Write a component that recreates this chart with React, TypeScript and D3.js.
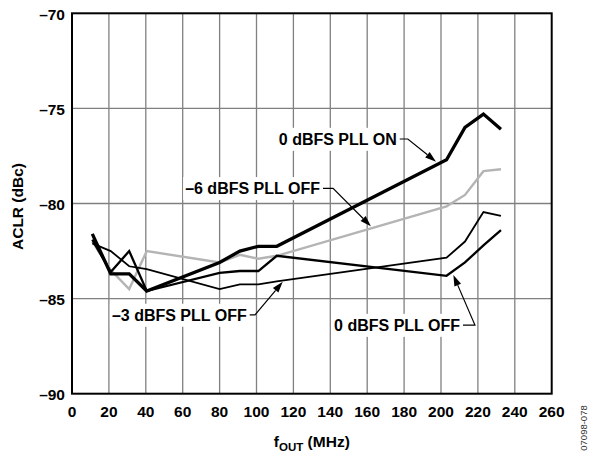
import { useEffect, useRef } from 'react';
import * as d3 from 'd3';

const FREQ_MHZ = [11, 21, 31, 40.5, 80, 91, 101, 111, 203, 213, 223, 232.5];
const ACLR_0DBFS_PLL_ON = [-81.6, -83.7, -83.7, -84.6, -83.1, -82.5, -82.25, -82.25, -77.7, -76.0, -75.3, -76.1];
const ACLR_0DBFS_PLL_OFF = [-81.9, -83.6, -82.5, -84.6, -83.65, -83.55, -83.55, -82.75, -83.8, -83.1, -82.2, -81.4];
const ACLR_M3DBFS_PLL_OFF = [-82.1, -82.5, -83.3, -83.45, -84.5, -84.25, -84.25, -84.1, -82.85, -82.0, -80.45, -80.65];
const ACLR_M6DBFS_PLL_OFF = [-82.0, -83.5, -84.5, -82.5, -83.1, -82.7, -82.9, -82.75, -80.15, -79.55, -78.3, -78.2];

const X_TICKS = [0, 20, 40, 60, 80, 100, 120, 140, 160, 180, 200, 220, 240, 260];
const Y_TICKS = [-90, -85, -80, -75, -70];

const SERIES = [
  { name: '–6 dBFS PLL OFF', values: ACLR_M6DBFS_PLL_OFF, color: '#b4b4b4', width: 2.4 },
  { name: '–3 dBFS PLL OFF', values: ACLR_M3DBFS_PLL_OFF, color: '#000', width: 1.8 },
  { name: '0 dBFS PLL OFF', values: ACLR_0DBFS_PLL_OFF, color: '#000', width: 2.3 },
  { name: '0 dBFS PLL ON', values: ACLR_0DBFS_PLL_ON, color: '#000', width: 3.3 },
];

// callouts in data units: text end, elbow of the leader, arrow tip
const CALLOUTS = [
  { text: '0 dBFS PLL ON', end: [176, -76.61], elbow: [182, -76.61], tip: [197.3, -77.8] },
  { text: '–6 dBFS PLL OFF', end: [134.4, -79.2], elbow: [141.5, -79.2], tip: [162, -81.2] },
  { text: '–3 dBFS PLL OFF', end: [94.7, -85.86], elbow: [99.2, -85.86], tip: [114.2, -84.12] },
  { text: '0 dBFS PLL OFF', end: [210.3, -86.39], elbow: [218.4, -86.39], tip: [206.7, -83.76] },
];

const W = 589;
const H = 457;
const FONT = 'Arial, "Liberation Sans", Helvetica, sans-serif';

function draw(svgEl: SVGSVGElement) {
  const svg = d3.select(svgEl);
  svg.selectAll('*').remove();

  const m = { left: 72, right: W - 551.7, top: 13.3, bottom: H - 393.7 };
  const x = d3.scaleLinear().domain([0, 260]).range([m.left, W - m.right]);
  const y = d3.scaleLinear().domain([-90, -70]).range([H - m.bottom, m.top]);

  svg.append('rect').attr('width', W).attr('height', H).attr('fill', '#fff');

  const grid = svg.append('g').attr('stroke', '#808080').attr('stroke-width', 1.3);
  grid.selectAll('line.v').data(X_TICKS.slice(1, -1)).join('line')
    .attr('x1', (d) => x(d)).attr('x2', (d) => x(d))
    .attr('y1', y(-90)).attr('y2', y(-70));
  grid.selectAll('line.h').data(Y_TICKS.slice(1, -1)).join('line')
    .attr('y1', (d) => y(d)).attr('y2', (d) => y(d))
    .attr('x1', x(0)).attr('x2', x(260));

  // label backgrounds go over the grid, under the curves
  const bgLayer = svg.append('g');

  const line = d3.line<number>()
    .x((_, i) => x(FREQ_MHZ[i]))
    .y((d) => y(d));

  for (const s of SERIES) {
    svg.append('path')
      .datum(s.values)
      .attr('fill', 'none')
      .attr('stroke', s.color)
      .attr('stroke-width', s.width)
      .attr('stroke-linejoin', 'miter')
      .attr('d', line);
  }

  svg.append('rect')
    .attr('x', x(0)).attr('y', y(-70))
    .attr('width', x(260) - x(0)).attr('height', y(-90) - y(-70))
    .attr('fill', 'none').attr('stroke', '#000').attr('stroke-width', 2);

  const txt = svg.append('g').attr('font-family', FONT).attr('font-weight', 'bold').attr('font-size', 15.5).attr('fill', '#000');

  txt.selectAll('text.xt').data(X_TICKS).join('text')
    .attr('x', (d) => x(d)).attr('y', 416.5).attr('text-anchor', 'middle')
    .text((d) => String(d));

  txt.selectAll('text.yt').data(Y_TICKS).join('text')
    .attr('x', 65).attr('y', (d) => y(d) + 6.5).attr('text-anchor', 'end')
    .text((d) => `–${Math.abs(d)}`);

  txt.append('text')
    .attr('transform', `translate(23,${(y(-70) + y(-90)) / 2 + 3}) rotate(-90)`)
    .attr('text-anchor', 'middle')
    .text('ACLR (dBc)');

  const xt = txt.append('text').attr('x', (x(0) + x(260)) / 2).attr('y', 446.5).attr('text-anchor', 'middle');
  xt.append('tspan').text('f');
  xt.append('tspan').attr('font-size', 11.5).attr('dy', 4).text('OUT');
  xt.append('tspan').attr('dy', -4).text(' (MHz)');

  svg.append('text')
    .attr('transform', `translate(586.5,${428}) rotate(-90)`)
    .attr('text-anchor', 'middle')
    .attr('font-family', FONT).attr('font-size', 9.5).attr('fill', '#333')
    .text('07098-078');

  for (const c of CALLOUTS) {
    const ex = x(c.end[0]);
    const ey = y(c.end[1]);
    const t = txt.append('text').attr('x', ex).attr('y', ey + 5.8).attr('font-size', 16)
      .attr('text-anchor', 'end').text(c.text);
    const bb = (t.node() as SVGTextElement).getBBox();
    bgLayer.append('rect')
      .attr('x', bb.x - 2).attr('y', bb.y - 3)
      .attr('width', bb.width + 4).attr('height', bb.height + 6)
      .attr('fill', '#fff');

    const kx = x(c.elbow[0]);
    const ky = y(c.elbow[1]);
    const tx = x(c.tip[0]);
    const ty = y(c.tip[1]);
    const ang = Math.atan2(ty - ky, tx - kx);
    const len = 11;
    const hw = 3.6;
    const bx = tx - len * Math.cos(ang);
    const by = ty - len * Math.sin(ang);
    svg.append('path')
      .attr('d', `M${ex + 3},${ey}L${kx},${ky}L${bx},${by}`)
      .attr('fill', 'none').attr('stroke', '#000').attr('stroke-width', 1.2);
    svg.append('path')
      .attr('d', `M${tx},${ty}L${bx - hw * Math.sin(ang)},${by + hw * Math.cos(ang)}L${bx + hw * Math.sin(ang)},${by - hw * Math.cos(ang)}Z`)
      .attr('fill', '#000');
  }
}

export default function App() {
  const ref = useRef<SVGSVGElement>(null);
  useEffect(() => {
    if (ref.current) draw(ref.current);
  }, []);
  return (
    <svg ref={ref} width={W} height={H} style={{ position: 'absolute', left: 0, top: 0, display: 'block' }} />
  );
}
